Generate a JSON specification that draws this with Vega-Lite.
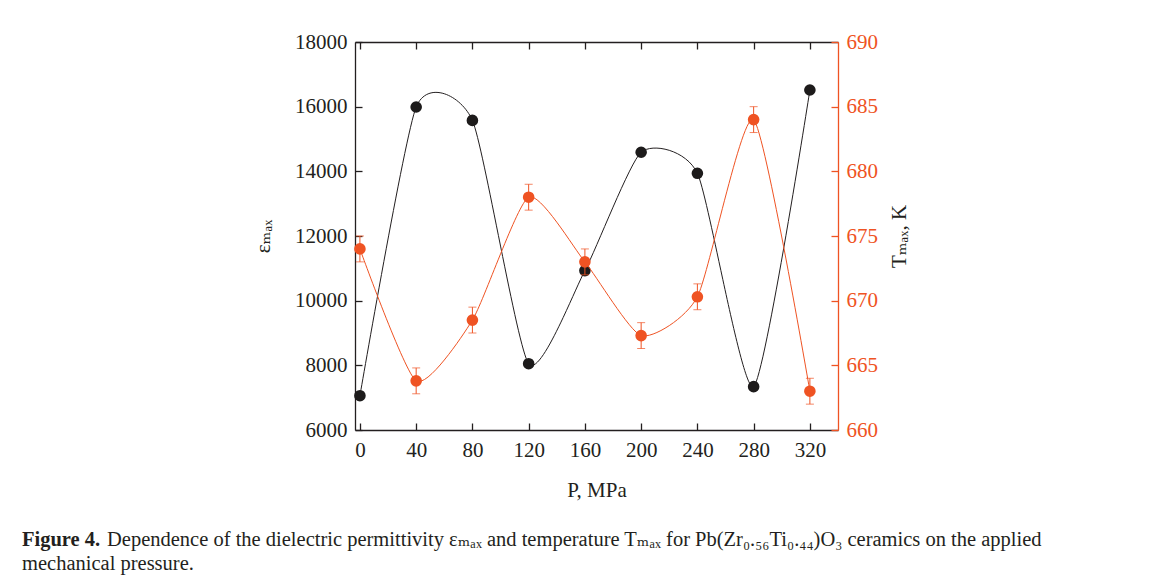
{
  "$schema": "https://vega.github.io/schema/vega-lite/v6.json",
  "autosize": {"type": "pad"},
  "padding": {"left": 22, "top": 31, "right": 5, "bottom": 5},
  "background": "white",
  "bounds": "flush",
  "config": {
    "view": {"stroke": null},
    "font": "Liberation Serif, DejaVu Serif, serif",
    "axis": {"grid": false, "labelFont": "Liberation Serif, DejaVu Serif, serif", "titleFont": "Liberation Serif, DejaVu Serif, serif", "labelFontSize": 21, "titleFontSize": 21, "titleFontWeight": "normal", "tickSize": -7, "labelPadding": 15, "domainWidth": 1.3, "tickWidth": 1.3, "format": "d"}
  },
  "title": {
    "text": "Dependence of the dielectric permittivity εₘₐₓ and temperature Tₘₐₓ for Pb(Zr₀.₅₆Ti₀.₄₄)O₃ ceramics on the applied",
    "orient": "bottom",
    "anchor": "start",
    "frame": "group",
    "dx": -248,
    "dy": -44,
    "offset": 0,
    "font": "Liberation Serif, DejaVu Serif, serif",
    "fontSize": 20.5,
    "fontWeight": "normal",
    "color": "#231f20"
  },
  "vconcat": [
    {
      "width": 483,
      "height": 388,
      "title": {
        "text": "Figure 4.",
        "subtitle": "mechanical pressure.",
        "orient": "bottom",
        "anchor": "start",
        "frame": "group",
        "dx": -333,
        "offset": 30,
        "font": "Liberation Serif, DejaVu Serif, serif",
        "fontSize": 20.5,
        "fontWeight": "bold",
        "color": "#231f20",
        "subtitleFont": "Liberation Serif, DejaVu Serif, serif",
        "subtitleFontSize": 20.5,
        "subtitleColor": "#231f20",
        "subtitlePadding": 3
      },
      "data": {
        "values": [
          {"P": 0, "eps": 7060, "T": 674.0, "Tlo": 673.0, "Thi": 675.0},
          {"P": 40, "eps": 15990, "T": 663.8, "Tlo": 662.8, "Thi": 664.8},
          {"P": 80, "eps": 15575, "T": 668.5, "Tlo": 667.5, "Thi": 669.5},
          {"P": 120, "eps": 8050, "T": 678.0, "Tlo": 677.0, "Thi": 679.0},
          {"P": 160, "eps": 10930, "T": 673.0, "Tlo": 672.0, "Thi": 674.0},
          {"P": 200, "eps": 14590, "T": 667.3, "Tlo": 666.3, "Thi": 668.3},
          {"P": 240, "eps": 13940, "T": 670.3, "Tlo": 669.3, "Thi": 671.3},
          {"P": 280, "eps": 7340, "T": 684.0, "Tlo": 683.0, "Thi": 685.0},
          {"P": 320, "eps": 16515, "T": 663.0, "Tlo": 662.0, "Thi": 664.0}
        ]
      },
      "layer": [
        {
          "encoding": {
            "x": {"field": "P", "type": "quantitative", "scale": {"domain": [-3.5, 340], "nice": false, "zero": false},
              "axis": {"orient": "bottom", "values": [0, 40, 80, 120, 160, 200, 240, 280, 320], "title": "P, MPa", "labelPadding": 16, "titlePadding": 19, "domainColor": "#231f20", "tickColor": "#231f20", "labelColor": "#231f20", "titleColor": "#231f20"}},
            "y": {"field": "eps", "type": "quantitative", "scale": {"domain": [6000, 18000], "nice": false, "zero": false},
              "axis": {"orient": "left", "values": [6000, 8000, 10000, 12000, 14000, 16000, 18000], "title": "εₘₐₓ", "titlePadding": 21, "domainColor": "#231f20", "tickColor": "#231f20", "labelColor": "#231f20", "titleColor": "#231f20"}}
          },
          "layer": [
            {"mark": {"type": "line", "interpolate": "cardinal", "tension": 0.4, "color": "#231f20", "strokeWidth": 1}},
            {"mark": {"type": "point", "filled": true, "shape": "circle", "size": 135, "color": "#1d1b1b", "opacity": 1}}
          ]
        },
        {
          "encoding": {
            "x": {"field": "P", "type": "quantitative", "scale": {"domain": [-3.5, 340], "nice": false, "zero": false},
              "axis": {"orient": "top", "values": [0, 40, 80, 120, 160, 200, 240, 280, 320], "labels": false, "title": null, "domainColor": "#231f20", "tickColor": "#231f20"}},
            "y": {"field": "T", "type": "quantitative", "scale": {"domain": [660, 690], "nice": false, "zero": false},
              "axis": {"orient": "right", "values": [660, 665, 670, 675, 680, 685, 690], "title": "Tₘₐₓ, K", "titleAngle": 270, "titlePadding": 32, "domainColor": "#ef5323", "tickColor": "#ef5323", "labelColor": "#ef5323", "titleColor": "#231f20"}}
          },
          "layer": [
            {"mark": {"type": "line", "interpolate": "cardinal", "tension": 0.4, "color": "#ef5323", "strokeWidth": 1}},
            {"mark": {"type": "errorbar", "color": "#ef5323", "ticks": {"size": 8, "color": "#ef5323"}, "rule": {"strokeWidth": 1}},
              "encoding": {"y": {"field": "Tlo", "type": "quantitative"}, "y2": {"field": "Thi"}}},
            {"mark": {"type": "point", "filled": true, "shape": "circle", "size": 135, "color": "#ef5323", "opacity": 1}}
          ]
        }
      ],
      "resolve": {"scale": {"x": "independent", "y": "independent"}}
    }
  ]
}
